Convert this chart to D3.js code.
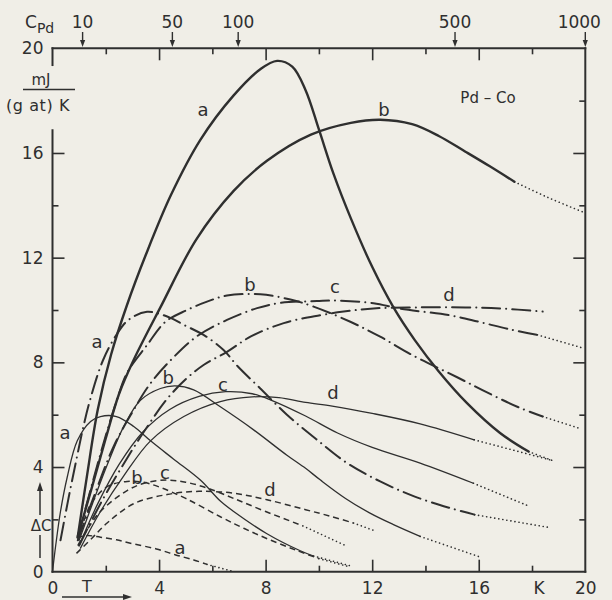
<!DOCTYPE html>
<html><head><meta charset="utf-8">
<script src="https://cdn.jsdelivr.net/npm/d3@7"></script>
<style>
html,body{margin:0;padding:0;background:#f0eee7;}
svg{display:block;}
</style></head><body>
<svg id="chart" width="612" height="600"></svg>
<script>
// ---------- data ----------
const xTicks = [0, 4, 8, 12, 16, 20];
const yTicks = [0, 4, 8, 12, 16, 20];
const majorTicks = [4, 8, 12, 16];
const minorTicks = [2, 6, 10, 14, 18];
const leftMinorTicks = [2, 6, 10, 14];
const topArrowT = [1.13, 4.5, 6.97, 15.11, 20];
const topArrowLabels = ["10", "50", "100", "500", "1000"];

// thick solid
const thickA = [[0.95,1.35],[1.3,3.7],[1.7,6.2],[2.2,8.3],[2.8,10.2],[3.5,12.1],[4.45,14.4],[5.55,16.5],[6.8,18.2],[7.8,19.2],[8.43,19.52],[9.0,19.3],[9.5,18.4],[10.0,16.9],[10.55,15.2],[11.2,13.5],[12.0,11.65],[12.8,10.1],[13.6,8.85],[14.5,7.65],[15.56,6.44],[16.8,5.3],[17.87,4.59]];
const thickAExt = [[17.87,4.59],[18.87,4.21]];
const thickB = [[0.95,1.35],[1.5,3.3],[2.0,5.1],[2.5,6.8],[3.05,8.1],[4.05,10.1],[5.4,12.7],[6.8,14.55],[8.05,15.7],[9.7,16.7],[11.2,17.15],[12.3,17.27],[13.5,17.1],[14.5,16.65],[15.5,16.05],[16.4,15.5],[17.34,14.9]];
const thickBExt = [[17.34,14.9],[18.6,14.3],[19.9,13.75]];
// thick dash-dot
const ddA = [[0.3,1.2],[0.6,2.8],[0.9,4.3],[1.15,5.5],[1.41,6.56],[1.9,8.09],[2.43,9.1],[2.85,9.62],[3.55,9.93],[4.43,9.7],[4.93,9.43],[5.67,9.05],[6.42,8.47],[6.95,7.85],[7.8,7.0],[8.8,6.0],[9.93,5.04],[11.06,4.15],[12.3,3.45],[13.6,2.87],[14.9,2.44],[15.84,2.18]];
const ddAExt = [[15.84,2.18],[18.7,1.68]];
const ddB = [[0.95,1.3],[1.5,3.4],[2.0,5.2],[2.4,6.5],[2.8,7.6],[3.55,8.66],[4.24,9.55],[5.05,10.0],[5.8,10.32],[6.55,10.55],[7.8,10.6],[8.93,10.4],[9.8,10.13],[11.18,9.55],[12.3,8.98],[13.5,8.28],[15.19,7.43],[16.37,6.82],[17.5,6.28],[18.4,5.93]];
const ddBExt = [[18.4,5.93],[19.74,5.49]];
const ddC = [[0.95,1.2],[1.6,3.0],[2.3,4.8],[3.0,6.1],[3.68,7.2],[4.55,8.2],[5.43,9.0],[6.55,9.62],[7.68,10.07],[8.55,10.27],[9.93,10.34],[10.68,10.36],[12.05,10.26],[13.06,10.05],[14.9,9.8],[16.0,9.55],[17.25,9.24],[18.2,9.05]];
const ddCExt = [[18.2,9.05],[19.9,8.55]];
const ddD = [[1.0,1.0],[1.8,2.6],[2.6,4.0],[3.4,5.3],[4.3,6.6],[5.0,7.35],[5.67,7.9],[6.55,8.4],[7.43,8.98],[8.68,9.5],[10.06,9.8],[10.93,9.94],[12.05,10.06],[13.68,10.1],[15.5,10.1],[16.8,10.06],[18.4,9.94]];
// thin solid
const thinA = [[0,0],[0.12,1.0],[0.3,2.3],[0.55,3.6],[0.93,5.0],[1.43,5.74],[1.8,5.93],[2.4,5.93],[3.05,5.55],[3.68,5.0],[4.55,4.3],[5.55,3.5],[6.3,2.7],[6.8,2.3],[8.05,1.45],[9.3,0.8],[9.8,0.6]];
const thinAExt = [[9.8,0.6],[11.2,0.22]];
const thinB = [[1.0,1.2],[1.5,2.6],[2.1,4.2],[2.7,5.6],[3.3,6.55],[4.05,7.0],[4.6,7.1],[5.3,6.95],[6.3,6.3],[7.55,5.42],[8.8,4.45],[9.5,3.95],[10.06,3.5],[11.0,2.8],[11.9,2.25],[12.8,1.8],[13.8,1.35]];
const thinBExt = [[13.8,1.35],[16.0,0.58]];
const thinC = [[1.0,1.0],[1.7,2.6],[2.5,4.1],[3.4,5.35],[4.4,6.2],[5.5,6.7],[6.5,6.88],[7.5,6.8],[8.2,6.56],[9.5,5.95],[10.7,5.3],[12.0,4.75],[13.8,4.15],[15.8,3.38]];
const thinCExt = [[15.8,3.38],[17.9,2.5]];
const thinD = [[1.05,0.9],[1.8,2.3],[2.7,3.7],[3.68,5.0],[4.93,5.93],[6.3,6.5],[7.5,6.68],[8.5,6.65],[9.5,6.47],[10.5,6.33],[12.0,6.05],[13.8,5.65],[15.83,5.04]];
const thinDExt = [[15.83,5.04],[18.8,4.24]];
// dashed
const dashA = [[0.9,1.3],[1.3,1.38],[1.8,1.32],[2.4,1.22],[3.05,1.06],[3.9,0.87],[4.6,0.65],[5.3,0.45],[5.8,0.28]];
const dashAExt = [[5.8,0.28],[6.7,0.03]];
const dashB = [[0.95,1.2],[1.2,2.0],[1.45,2.6],[2.05,3.25],[2.8,3.45],[3.4,3.42],[4.05,3.22],[5.0,2.8],[6.3,2.1],[7.2,1.65],[8.2,1.2],[9.2,0.8],[10.0,0.5]];
const dashBExt = [[10.0,0.5],[11.1,0.2]];
const dashC = [[0.95,1.0],[1.3,1.6],[1.8,2.3],[2.8,3.1],[3.5,3.4],[4.3,3.5],[5.0,3.42],[5.8,3.2],[6.8,2.8],[8.0,2.3],[9.4,1.75]];
const dashCExt = [[9.4,1.75],[11.06,0.97]];
const dashD = [[0.9,0.7],[1.5,1.3],[2.05,1.86],[3.05,2.6],[4.3,2.95],[5.5,3.07],[6.8,3.0],[8.05,2.75],[9.5,2.37],[10.5,2.1],[11.3,1.86]];
const dashDExt = [[11.3,1.86],[12.16,1.54]];

const curveLetters = ["a","b","a","b","c","d","a","b","c","d","a","b","c","d"];
const curveLabelT = [5.65,12.44,1.67,7.41,10.6,14.88,0.47,4.34,6.4,10.53,4.79,3.17,4.22,8.16];
const curveLabelC = [17.64,17.64,8.78,10.96,10.88,10.57,5.3,7.4,7.13,6.83,0.9,3.58,3.77,3.12];

// ---------- drawing ----------
const INK = "#2f2f2f";
const FONT = "'DejaVu Sans', sans-serif";
const svg = d3.select("#chart");
svg.append("rect").attr("width",612).attr("height",600).attr("fill","#f0eee7");

const x = d3.scaleLinear().domain([0,20]).range([52.5,585.3]);
const y = d3.scaleLinear().domain([0,20]).range([571.7,48.3]);

const styles = {
  thick:  {w:2.4, dash:null, cap:"round"},
  thin:   {w:1.3, dash:null, cap:"round"},
  dashdot:{w:2.0, dash:"18,6,0.1,6", cap:"round"},
  dashed: {w:1.5, dash:"6,4", cap:"butt"},
  dotted: {w:1.6, dash:"0.1,4", cap:"round"}
};
const series = [
  {pts:thickA, ext:thickAExt, s:"thick"},
  {pts:thickB, ext:thickBExt, s:"thick"},
  {pts:ddA, ext:ddAExt, s:"dashdot"},
  {pts:ddB, ext:ddBExt, s:"dashdot"},
  {pts:ddC, ext:ddCExt, s:"dashdot"},
  {pts:ddD, ext:null, s:"dashdot"},
  {pts:thinA, ext:thinAExt, s:"thin"},
  {pts:thinB, ext:thinBExt, s:"thin"},
  {pts:thinC, ext:thinCExt, s:"thin"},
  {pts:thinD, ext:thinDExt, s:"thin"},
  {pts:dashA, ext:dashAExt, s:"dashed"},
  {pts:dashB, ext:dashBExt, s:"dashed"},
  {pts:dashC, ext:dashCExt, s:"dashed"},
  {pts:dashD, ext:dashDExt, s:"dashed"}
];

// axes (ticks inside)
function styleAxis(g){
  g.select(".domain").remove();
  g.selectAll("line").attr("stroke",INK).attr("stroke-width",1.6);
  g.selectAll("text").attr("fill",INK).attr("font-size",17).attr("font-family",FONT);
}
const gBottom = svg.append("g").attr("transform",`translate(0,${y(0)})`);
gBottom.append("g").call(d3.axisBottom(x).tickValues(majorTicks).tickSize(-12).tickFormat("")).call(styleAxis);
gBottom.append("g").call(d3.axisBottom(x).tickValues(minorTicks).tickSize(-6).tickFormat("")).call(styleAxis);
gBottom.append("g").call(d3.axisBottom(x).tickValues(xTicks).tickSize(0).tickPadding(10).tickFormat(d3.format("d"))).call(styleAxis);

const gTop = svg.append("g").attr("transform",`translate(0,${y(20)})`);
gTop.append("g").call(d3.axisTop(x).tickValues(majorTicks).tickSize(-12).tickFormat("")).call(styleAxis);
gTop.append("g").call(d3.axisTop(x).tickValues(minorTicks).tickSize(-6).tickFormat("")).call(styleAxis);

const gLeft = svg.append("g").attr("transform",`translate(${x(0)},0)`);
gLeft.append("g").call(d3.axisLeft(y).tickValues(majorTicks).tickSize(-12).tickFormat("")).call(styleAxis);
gLeft.append("g").call(d3.axisLeft(y).tickValues(leftMinorTicks).tickSize(-6).tickFormat("")).call(styleAxis);
gLeft.append("g").call(d3.axisLeft(y).tickValues(yTicks).tickSize(0).tickPadding(9).tickFormat(d3.format("d"))).call(styleAxis);

const gRight = svg.append("g").attr("transform",`translate(${x(20)},0)`);
gRight.append("g").call(d3.axisRight(y).tickValues(majorTicks).tickSize(-12).tickFormat("")).call(styleAxis);
gRight.append("g").call(d3.axisRight(y).tickValues(minorTicks).tickSize(-6).tickFormat("")).call(styleAxis);

// frame lines (left axis broken for unit label)
const frame = svg.append("g").attr("stroke",INK).attr("stroke-width",2).attr("fill","none").attr("stroke-linecap","square");
frame.append("line").attr("x1",x(0)).attr("x2",x(20)).attr("y1",y(20)).attr("y2",y(20));
frame.append("line").attr("x1",x(0)).attr("x2",x(20)).attr("y1",y(0)).attr("y2",y(0));
frame.append("line").attr("x1",x(20)).attr("x2",x(20)).attr("y1",y(20)).attr("y2",y(0));
frame.append("line").attr("x1",x(0)).attr("x2",x(0)).attr("y1",y(20)).attr("y2",y(19.36));
frame.append("line").attr("x1",x(0)).attr("x2",x(0)).attr("y1",y(16.87)).attr("y2",y(0));

// curves
const line = d3.line().x(d=>x(d[0])).y(d=>y(d[1])).curve(d3.curveCatmullRom.alpha(0.5));
const cg = svg.append("g").attr("fill","none").attr("stroke",INK).attr("stroke-linejoin","round");
series.forEach(sr=>{
  const st = styles[sr.s];
  cg.append("path").attr("d",line(sr.pts)).attr("stroke-width",st.w)
    .attr("stroke-dasharray",st.dash).attr("stroke-linecap",st.cap);
  if(sr.ext){
    const dt = styles.dotted;
    cg.append("path").attr("d",line(sr.ext)).attr("stroke-width",dt.w)
      .attr("stroke-dasharray",dt.dash).attr("stroke-linecap",dt.cap);
  }
});

// curve letters
svg.append("g").selectAll("text").data(curveLetters).join("text")
  .attr("x",(d,i)=>x(curveLabelT[i])).attr("y",(d,i)=>y(curveLabelC[i]))
  .attr("dy","0.35em").attr("text-anchor","middle")
  .attr("font-family",FONT).attr("font-size",18).attr("fill",INK).text(d=>d);

// top concentration arrows
const ta = svg.append("g");
topArrowT.forEach((t,i)=>{
  const px = x(t);
  ta.append("line").attr("x1",px).attr("x2",px).attr("y1",32).attr("y2",41).attr("stroke",INK).attr("stroke-width",1.4);
  ta.append("path").attr("d",`M${px-2.6},40 L${px+2.6},40 L${px},47 Z`).attr("fill",INK);
  ta.append("text").attr("x",px - (i===topArrowT.length-1?6:0)).attr("y",28).attr("text-anchor","middle")
    .attr("font-family",FONT).attr("font-size",17).attr("fill",INK).text(topArrowLabels[i]);
});

// axis titles
const tx = svg.append("g").attr("font-family",FONT).attr("fill",INK);
const cpd = tx.append("text").attr("x",25).attr("y",28).attr("font-size",17);
cpd.append("tspan").text("C");
cpd.append("tspan").attr("dy",5).attr("font-size",14).text("Pd");
tx.append("text").attr("x",41).attr("y",85).attr("text-anchor","middle").attr("font-size",15).text("mJ");
tx.append("line").attr("x1",23).attr("x2",75).attr("y1",89.5).attr("y2",89.5).attr("stroke",INK).attr("stroke-width",1.5);
tx.append("text").attr("x",38).attr("y",111).attr("text-anchor","middle").attr("font-size",16).attr("letter-spacing",0.6).text("(g at) K");
tx.append("text").attr("x",488).attr("y",103).attr("text-anchor","middle").attr("font-size",15).text("Pd – Co");
tx.append("text").attr("x",41).attr("y",531).attr("text-anchor","middle").attr("font-size",15).text("ΔC");
tx.append("text").attr("x",87).attr("y",592).attr("text-anchor","middle").attr("font-size",16).text("T");
tx.append("text").attr("x",539).attr("y",594).attr("text-anchor","middle").attr("font-size",17).text("K");

// ΔC arrow (up) and T arrow (right)
const ar = svg.append("g").attr("stroke",INK).attr("stroke-width",1.5);
ar.append("line").attr("x1",40).attr("x2",40).attr("y1",489).attr("y2",515);
ar.append("line").attr("x1",40).attr("x2",40).attr("y1",535).attr("y2",558);
svg.append("path").attr("d","M37,491 L43,491 L40,482 Z").attr("fill",INK);
ar.append("line").attr("x1",62).attr("x2",124).attr("y1",597).attr("y2",597);
svg.append("path").attr("d","M123,594 L123,600 L132,597 Z").attr("fill",INK);
</script>
</body></html>
